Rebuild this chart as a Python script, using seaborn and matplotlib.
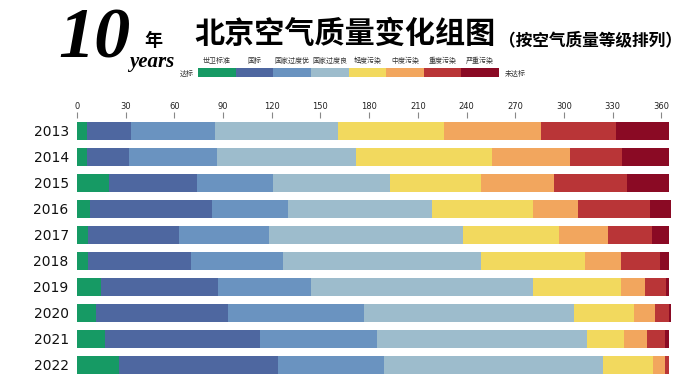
import numpy as np
import pandas as pd
import matplotlib
matplotlib.use("Agg")
import matplotlib.pyplot as plt
import seaborn as sns

# days per year in each air quality grade
years = ["2013", "2014", "2015", "2016", "2017", "2018", "2019", "2020", "2021", "2022"]
grades = ["世卫标准", "国标", "国家过度优", "国家过度良", "轻度污染", "中度污染", "重度污染", "严重污染"]
who_std = [6, 6, 20, 8, 7, 7, 15, 12, 17, 26]
national = [27, 26, 54, 75, 56, 63, 72, 81, 96, 98]
trans_good = [52, 54, 47, 47, 55, 57, 57, 84, 72, 65]
trans_fair = [76, 86, 72, 89, 120, 122, 137, 129, 129, 135]
light = [65, 84, 56, 62, 59, 64, 54, 37, 23, 31]
moderate = [60, 48, 45, 28, 30, 22, 15, 13, 14, 7]
heavy = [46, 32, 45, 44, 27, 24, 13, 9, 11, 3]
severe = [33, 29, 26, 13, 11, 6, 2, 1, 3, 0]
ticks = [0, 30, 60, 90, 120, 150, 180, 210, 240, 270, 300, 330, 360]

colors = ["#169a64", "#4e67a0", "#6a93c0", "#9dbccc",
          "#f2d95e", "#f2a65e", "#b93537", "#8a0a24"]

series = [who_std, national, trans_good, trans_fair, light, moderate, heavy, severe]
df = pd.DataFrame(dict(zip(grades, series)), index=years)
cum = df.cumsum(axis=1)

sns.set_style("white")
plt.rcParams['font.family'] = ['Noto Sans CJK SC', 'DejaVu Sans']

fig = plt.figure(figsize=(6.9, 3.79), dpi=100)
ax = fig.add_axes([77 / 690, 1 - 378 / 379, 594 / 690, 260 / 379])

# stacked bars: draw cumulative totals from the last grade backwards
for g, c in reversed(list(zip(grades, colors))):
    sns.barplot(x=cum[g].values, y=years, color=c, orient="h",
                width=0.7, saturation=1, ax=ax, linewidth=0)

ax.set_xlim(0, 366)
ax.set_ylim(9.5, -0.5)
ax.xaxis.tick_top()
ax.set_xticks(ticks)
ax.tick_params(axis="x", length=4, width=0.8, color="#888888", pad=1,
               labelsize=6, labelcolor="#222222")
ax.tick_params(axis="y", length=0, pad=6, labelsize=10, labelcolor="#111111")
for lab in ax.get_xticklabels() + ax.get_yticklabels():
    lab.set_family("DejaVu Sans")
ax.set_xlabel("")
ax.set_ylabel("")
sns.despine(ax=ax, left=True, bottom=True, top=True, right=True)

# header
fig.text(58 / 690, 1 - 40 / 379, "10", fontsize=52, fontweight="bold",
         style="italic", family="Liberation Serif", ha="left", va="center",
         color="black")
fig.text(144 / 690, 1 - 40 / 379, "年", fontsize=13, fontweight="bold",
         ha="left", va="center", color="black")
fig.text(129 / 690, 1 - 62 / 379, "years", fontsize=15, fontweight="bold",
         style="italic", family="Liberation Serif", ha="left", va="center",
         color="black")
fig.text(194 / 690, 1 - 34 / 379, "北京空气质量变化组图", fontsize=21.7,
         fontweight="bold", ha="left", va="center", color="black")
fig.text(499 / 690, 1 - 40 / 379, "（按空气质量等级排列）", fontsize=12,
         fontweight="bold", ha="left", va="center", color="black")

# colour strip legend
leg = fig.add_axes([198 / 690, 1 - 77 / 379, 301 / 690, 9 / 379])
for i, (g, c) in enumerate(zip(grades, colors)):
    leg.barh(0.5, 1, left=i, height=1, color=c, linewidth=0)
    leg.text(i + 0.5, 1.3, g, ha="center", va="bottom", fontsize=5,
             color="#333333")
leg.text(-0.12, 0.35, "达标", ha="right", va="center", fontsize=5, color="#333333")
leg.text(8.15, 0.3, "未达标", ha="left", va="center", fontsize=5, color="#333333")
leg.set_xlim(0, 8)
leg.set_ylim(0, 1)
leg.axis("off")

fig.savefig("out.png", dpi=100)
